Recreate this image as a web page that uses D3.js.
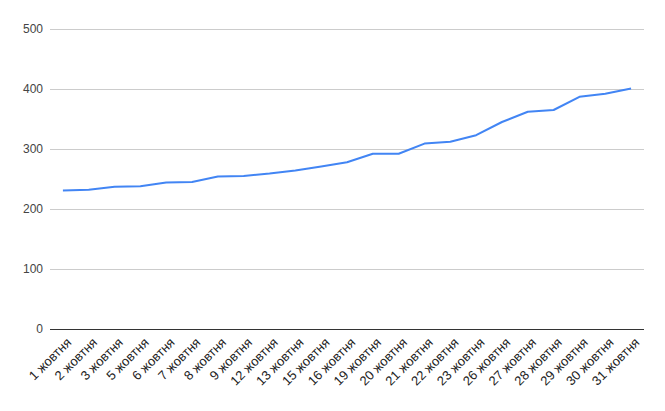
<!DOCTYPE html>
<html>
<head>
<meta charset="utf-8">
<script src="https://cdn.jsdelivr.net/npm/d3@7"></script>
<style>
  body { margin: 0; background: #fff; }
  svg { display: block; }
</style>
</head>
<body>
<div class="chart"></div>
<script>
// Data
var days = ["1 жовтня", "2 жовтня", "3 жовтня", "5 жовтня", "6 жовтня", "7 жовтня",
  "8 жовтня", "9 жовтня", "12 жовтня", "13 жовтня", "15 жовтня", "16 жовтня",
  "19 жовтня", "20 жовтня", "21 жовтня", "22 жовтня", "23 жовтня", "26 жовтня",
  "27 жовтня", "28 жовтня", "29 жовтня", "30 жовтня", "31 жовтня"];
var values = [231, 232, 237, 238, 244, 245, 254, 255, 259, 264, 271, 278,
  292, 292, 309, 312, 323, 345, 362, 365, 387, 392, 401];
var yTicks = [0, 100, 200, 300, 400, 500];

// (careful: "top" is taken by window.top)
var width = 665,
  height = 411,
  plotLeft = 50,
  plotRight = 644,
  plotTop = 29,
  plotBottom = 329,
  fontFamily = "Arial, 'Liberation Sans', sans-serif";

var svg = d3.select(".chart").append("svg")
  .attr("width", width)
  .attr("height", height);

var x = d3.scaleBand()
  .domain(days)
  .range([plotLeft, plotRight]);

var y = d3.scaleLinear()
  .domain([0, 500])
  .range([plotBottom, plotTop]);

// gridlines
svg.append("g")
  .selectAll("line")
  .data(yTicks.filter(function(d) { return d > 0; }))
  .enter().append("line")
    .attr("x1", plotLeft)
    .attr("x2", plotRight)
    .attr("y1", function(d) { return y(d) + 0.5; })
    .attr("y2", function(d) { return y(d) + 0.5; })
    .style("stroke", "#cccccc")
    .style("stroke-width", 1);

// y labels
svg.append("g")
  .selectAll("text")
  .data(yTicks)
  .enter().append("text")
    .attr("x", plotLeft - 7)
    .attr("y", function(d) { return y(d); })
    .attr("dy", "0.35em")
    .attr("text-anchor", "end")
    .style("font-family", fontFamily)
    .style("font-size", "12px")
    .style("fill", "#444")
    .text(function(d) { return d; });

// baseline
svg.append("line")
  .attr("x1", plotLeft)
  .attr("x2", plotRight)
  .attr("y1", y(0) + 0.5)
  .attr("y2", y(0) + 0.5)
  .style("stroke", "#333")
  .style("stroke-width", 1);

// x labels, rotated
svg.append("g")
  .selectAll("text")
  .data(days)
  .enter().append("text")
    .attr("transform", function(d) {
      var cx = x(d) + x.bandwidth() / 2 + 6;
      return "translate(" + cx + "," + (plotBottom + 11) + ") rotate(-45)";
    })
    .attr("text-anchor", "end")
    .attr("dy", "0.35em")
    .style("font-family", fontFamily)
    .style("font-size", "13px")
    .style("fill", "#222")
    .text(function(d) { return d; });

// line
var line = d3.line()
  .x(function(d, i) { return x(days[i]) + x.bandwidth() / 2; })
  .y(function(d) { return y(d); });

svg.append("path")
  .datum(values)
  .attr("d", line)
  .style("fill", "none")
  .style("stroke", "#4285f4")
  .style("stroke-width", 2)
  .style("stroke-linejoin", "round");
</script>
</body>
</html>
